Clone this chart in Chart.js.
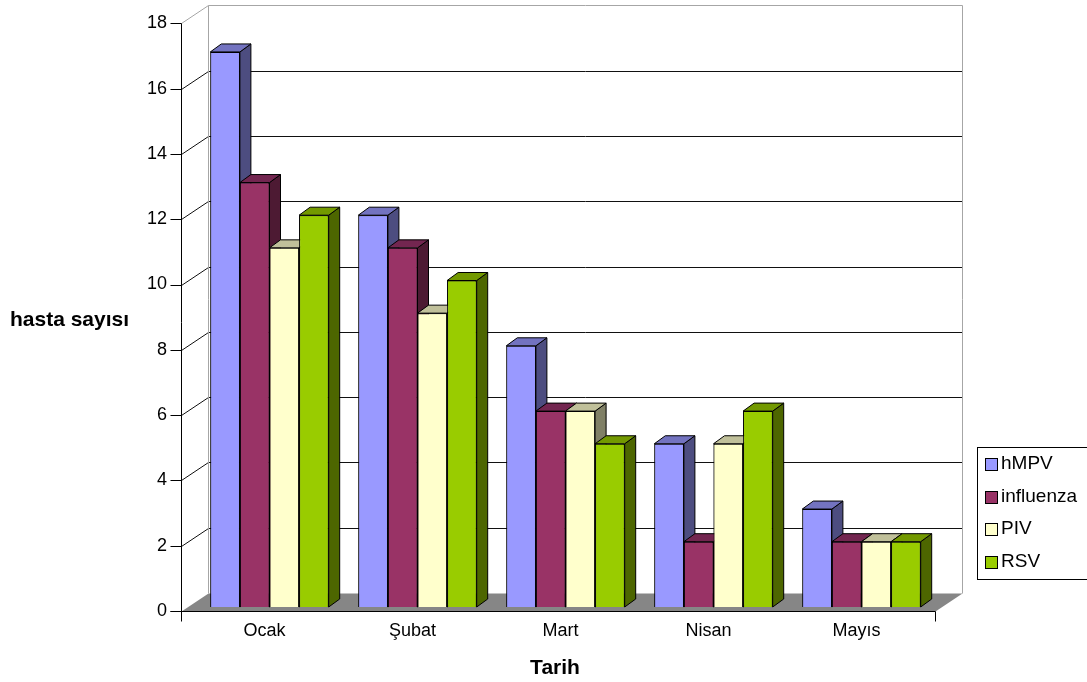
<!DOCTYPE html>
<html lang="tr">
<head>
<meta charset="utf-8">
<title>hasta sayısı</title>
<script src="https://cdn.jsdelivr.net/npm/chart.js@4/dist/chart.umd.min.js"></script>
<style>
    body { margin: 0; background: #fff; }
    #chart { display: block; }
</style>
</head>
<body>
<canvas id="chart" width="1087" height="682"></canvas>
<script>
// Veriler
const aylar = ['Ocak', 'Şubat', 'Mart', 'Nisan', 'Mayıs'];
const seriAdlari = ['hMPV', 'influenza', 'PIV', 'RSV'];
const hmpv = [17, 12, 8, 5, 3];
const influenza = [13, 11, 6, 2, 2];
const piv = [11, 9, 6, 5, 2];
const rsv = [12, 10, 5, 6, 2];
const yTicks = [0, 2, 4, 6, 8, 10, 12, 14, 16, 18];

// Renkler: ön yüz, üst yüz, yan yüz
const onRenk = ['#9999FF', '#993366', '#FFFFCC', '#99CC00'];
const ustRenk = ['#7373C0', '#732650', '#C0C09A', '#739900'];
const yanRenk = ['#4D4D80', '#4D1A33', '#808066', '#4D6600'];

const FONT = "'Liberation Sans', Arial, sans-serif";
const DX = 11, DY = 8;           // çubuk derinliği
const WALL_DX = 27, WALL_DY = 18; // duvar derinliği

Chart.defaults.font.family = FONT;

// Ön eksen düzlemi (çubuk düzleminin biraz önünde)
function onY(chart, v) {
    return chart.scales.y.getPixelForValue(v) + 4;
}

// Zemin, duvarlar ve ızgara
const duvarPlugin = {
    id: 'duvarlar',
    beforeDatasetsDraw(chart) {
        const ctx = chart.ctx;
        const a = chart.chartArea;
        const fx = Math.round(a.left - 14.5) + 0.5;
        const fxR = Math.round(a.right - 0.5) + 0.5;
        const bx = fx + WALL_DX, bxR = fxR + WALL_DX;
        const by = v => Math.round(onY(chart, v) - WALL_DY) + 0.5;
        const fy = v => Math.round(onY(chart, v)) + 0.5;

        ctx.save();
        ctx.lineWidth = 1;

        // zemin
        ctx.fillStyle = '#868686';
        ctx.beginPath();
        ctx.moveTo(fx, fy(0));
        ctx.lineTo(fxR, fy(0));
        ctx.lineTo(bxR, by(0));
        ctx.lineTo(bx, by(0));
        ctx.closePath();
        ctx.fill();

        // ızgara çizgileri
        yTicks.forEach(v => {
            if (v === 0) return;
            const top = v === yTicks[yTicks.length - 1];
            ctx.strokeStyle = top ? '#a6a6a6' : '#111';
            ctx.beginPath();
            ctx.moveTo(fx, fy(v));
            ctx.lineTo(bx, by(v));
            ctx.lineTo(bxR, by(v));
            ctx.stroke();
        });

        // duvar kenarları
        ctx.strokeStyle = '#a6a6a6';
        ctx.beginPath();
        ctx.moveTo(bx, by(18));
        ctx.lineTo(bx, by(0));
        ctx.moveTo(bxR, by(18));
        ctx.lineTo(bxR, by(0));
        ctx.stroke();

        // eksenler
        ctx.strokeStyle = '#000';
        ctx.beginPath();
        ctx.moveTo(fx, fy(18));
        ctx.lineTo(fx, fy(0) + 10);
        ctx.moveTo(fx - 11, fy(0));
        ctx.lineTo(fxR, fy(0));
        ctx.lineTo(fxR, fy(0) + 10);
        yTicks.forEach(v => {
            ctx.moveTo(fx - 11, fy(v));
            ctx.lineTo(fx, fy(v));
        });
        ctx.stroke();
        ctx.restore();
    },

    // 3B çubuklar: her ay için soldan sağa yan, üst ve ön yüz
    afterDatasetsDraw(chart) {
        const ctx = chart.ctx;
        ctx.save();
        ctx.lineWidth = 1;
        ctx.strokeStyle = '#000';
        ctx.lineJoin = 'round';
        aylar.forEach((ay, j) => {
            chart.data.datasets.forEach((ds, i) => {
                const bar = chart.getDatasetMeta(i).data[j];
                const x1 = bar.x - bar.width / 2;
                const x2 = bar.x + bar.width / 2;
                const top = bar.y, base = bar.base;

                ctx.fillStyle = yanRenk[i];
                ctx.beginPath();
                ctx.moveTo(x2, top);
                ctx.lineTo(x2 + DX, top - DY);
                ctx.lineTo(x2 + DX, base - DY);
                ctx.lineTo(x2, base);
                ctx.closePath();
                ctx.fill();
                ctx.stroke();

                ctx.fillStyle = ustRenk[i];
                ctx.beginPath();
                ctx.moveTo(x1, top);
                ctx.lineTo(x1 + DX, top - DY);
                ctx.lineTo(x2 + DX, top - DY);
                ctx.lineTo(x2, top);
                ctx.closePath();
                ctx.fill();
                ctx.stroke();

                bar.draw(ctx, chart.chartArea);
            });
        });
        ctx.restore();
    },

    // lejant ve eksen başlıkları
    afterDraw(chart) {
        const ctx = chart.ctx;
        ctx.save();

        ctx.fillStyle = '#000';
        ctx.font = 'bold 21px ' + FONT;
        ctx.textBaseline = 'middle';
        ctx.textAlign = 'left';
        ctx.fillText('hasta sayısı', 10, 320);
        ctx.textAlign = 'center';
        ctx.fillText('Tarih', 555, 668);

        // lejant kutusu
        ctx.lineWidth = 1;
        ctx.strokeStyle = '#000';
        ctx.fillStyle = '#fff';
        ctx.fillRect(977.5, 447.5, 120, 132);
        ctx.strokeRect(977.5, 447.5, 120, 132);

        ctx.font = '19px ' + FONT;
        ctx.textAlign = 'left';
        chart.data.datasets.forEach((ds, k) => {
            const y = 464 + k * 32.5;
            ctx.fillStyle = ds.backgroundColor;
            ctx.fillRect(985.5, Math.round(y - 6) + 0.5, 12, 12);
            ctx.strokeRect(985.5, Math.round(y - 6) + 0.5, 12, 12);
            ctx.fillStyle = '#000';
            ctx.fillText(ds.label, 1001, y);
        });
        ctx.restore();
    }
};

const seriler = [hmpv, influenza, piv, rsv];

new Chart(document.getElementById('chart'), {
    type: 'bar',
    data: {
        labels: aylar,
        datasets: seriler.map((veri, i) => ({
            label: seriAdlari[i],
            data: veri,
            backgroundColor: onRenk[i],
            borderColor: '#000',
            borderWidth: 1,
            categoryPercentage: 0.8,
            barPercentage: 1.0
        }))
    },
    options: {
        responsive: false,
        animation: false,
        devicePixelRatio: 1,
        layout: { padding: { left: 0, right: 151.5, top: 19.3, bottom: 0 } },
        plugins: {
            legend: { display: false },
            tooltip: { enabled: false }
        },
        scales: {
            x: {
                grid: { display: false, drawTicks: false },
                border: { display: false },
                ticks: {
                    color: '#000',
                    font: { size: 18 },
                    padding: 13,
                    labelOffset: -5
                },
                afterFit(scale) {
                    scale.height = 75;
                    scale.paddingLeft = 0;
                    scale.paddingRight = 0;
                }
            },
            y: {
                min: 0,
                max: 18,
                grid: { display: false, drawTicks: false },
                border: { display: false },
                ticks: {
                    stepSize: 2,
                    color: '#000',
                    font: { size: 18 },
                    padding: 28.5,
                    labelOffset: 4
                },
                afterFit(scale) {
                    scale.width = 195.5;
                    scale.paddingTop = 0;
                    scale.paddingBottom = 0;
                }
            }
        }
    },
    plugins: [duvarPlugin]
});
</script>
</body>
</html>
